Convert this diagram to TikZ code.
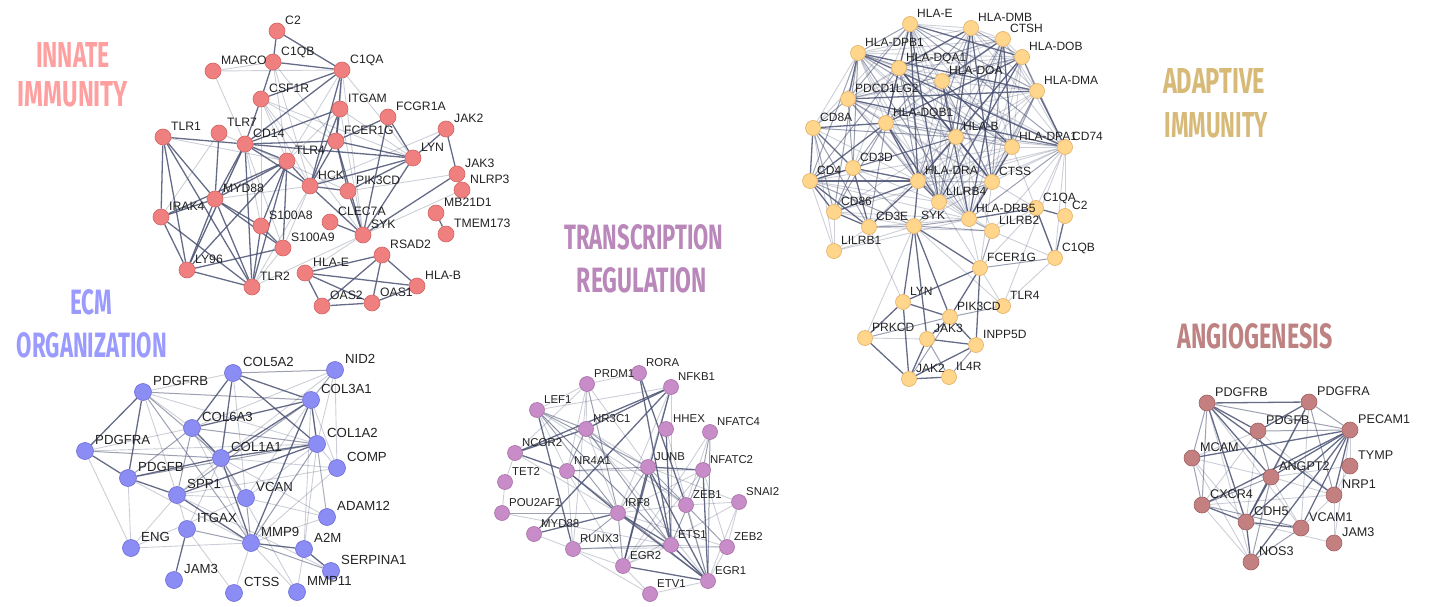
\documentclass[tikz,border=0pt]{standalone}
\usepackage{fontspec}
\setmainfont{Liberation Sans}
\newfontfamily\titlefont{Fira Sans}
\usetikzlibrary{backgrounds}
\pgfdeclarelayer{foreground}
\pgfsetlayers{background,main,foreground}
\definecolor{edgec}{HTML}{4B5273}
\definecolor{labc}{HTML}{222222}
\definecolor{ifill}{HTML}{F08080}\definecolor{idraw}{HTML}{D46464}
\definecolor{efill}{HTML}{8C8CF5}\definecolor{edraw}{HTML}{6C6CD6}
\definecolor{tfill}{HTML}{C88CC8}\definecolor{tdraw}{HTML}{A66EA6}
\definecolor{afill}{HTML}{FFD68C}\definecolor{adraw}{HTML}{E2AE60}
\definecolor{gfill}{HTML}{C48080}\definecolor{gdraw}{HTML}{A06060}
\definecolor{ititle}{HTML}{FFA0A0}
\definecolor{etitle}{HTML}{9B9BFF}
\definecolor{ttitle}{HTML}{B987B9}
\definecolor{atitle}{HTML}{D7B978}
\definecolor{gtitle}{HTML}{BE8282}
\newcommand\netnodes[3]{\foreach \n/\x/\y in {#3} {\node[#2] (#1\n) at (\x,\y) {}; \begin{pgfonlayer}{foreground}\node[lab#1] (#1\n-l) at (#1\n.center) {\n};\end{pgfonlayer}}}
\newcommand\netedges[3]{\foreach \a/\b in {#3} {\draw[#2] (#1\a) -- (#1\b);}}
\newcommand\ttl[6]{\node[title, text=#6] (#1) at (#2,#3) {\resizebox{#4pt}{25pt}{\titlefont\bfseries #5}};}
\begin{document}
\begin{tikzpicture}[x=1pt,y=-1pt,
  gnode/.style={circle, inner sep=0pt, line width=0.6pt},
  inode/.style={gnode, minimum size=16pt, fill=ifill, draw=idraw},
  enode/.style={gnode, minimum size=17pt, fill=efill, draw=edraw},
  tnode/.style={gnode, minimum size=15pt, fill=tfill, draw=tdraw},
  anode/.style={gnode, minimum size=15pt, fill=afill, draw=adraw},
  gnodeb/.style={gnode, minimum size=16pt, fill=gfill, draw=gdraw},
  labbase/.style={anchor=base west, inner sep=0pt, text=labc},
  labi/.style={labbase, font=\fontsize{12.2}{14}\selectfont, xshift=8pt, yshift=6.5pt},
  labe/.style={labbase, font=\fontsize{13.2}{15}\selectfont, xshift=10pt, yshift=7pt},
  labt/.style={labbase, font=\fontsize{11.4}{13}\selectfont, xshift=7pt, yshift=6.5pt},
  laba/.style={labbase, font=\fontsize{12}{14}\selectfont, xshift=7pt, yshift=6.5pt},
  labg/.style={labbase, font=\fontsize{12.6}{14}\selectfont, xshift=8pt, yshift=6.5pt},
  es/.style={draw=edgec, line width=1.3pt, opacity=0.85},
  em/.style={draw=edgec, line width=1pt, opacity=0.55},
  ew/.style={draw=edgec, line width=0.9pt, opacity=0.28},
  title/.style={anchor=south, inner sep=0pt}]
\useasboundingbox (0,0) rectangle (1430,607);

% ---------------- titles
\ttl{tInnate1}{73}{68}{74}{INNATE}{ititle}
\ttl{tInnate2}{73}{107}{110}{IMMUNITY}{ititle}
\ttl{tEcm1}{91}{315}{42}{ECM}{etitle}
\ttl{tEcm2}{92}{358}{150}{ORGANIZATION}{etitle}
\ttl{tTr1}{644}{250}{159}{TRANSCRIPTION}{ttitle}
\ttl{tTr2}{642}{293}{130}{REGULATION}{ttitle}
\ttl{tAd1}{1214}{94}{102}{ADAPTIVE}{atitle}
\ttl{tAd2}{1216}{138}{103}{IMMUNITY}{atitle}
\ttl{tAng}{1255}{349}{155}{ANGIOGENESIS}{gtitle}

% ---------------- innate immunity
\netnodes{i}{inode}{C2/277/31, C1QB/273/62, MARCO/213/71, C1QA/342/70, CSF1R/261/99, ITGAM/340/109, FCGR1A/388/117, JAK2/446/129, TLR1/163/137, TLR7/219/133, CD14/245/144, FCER1G/336/141, TLR4/287/161, LYN/413/158, JAK3/457/174, NLRP3/462/190, HCK/310/186, PIK3CD/348/191, MYD88/215/199, IRAK4/161/217, MB21D1/436/213, CLEC7A/330/222, S100A8/261/226, SYK/363/235, TMEM173/446/234, S100A9/283/248, RSAD2/382/255, LY96/187/270, HLA-E/305/273, HLA-B/417/286, TLR2/252/287, OAS2/322/306, OAS1/372/303}

% ---------------- ECM
\netnodes{e}{enode}{COL5A2/233/373, NID2/335/370, PDGFRB/143/392, COL3A1/311/400, COL6A3/192/428, COL1A2/317/444, PDGFRA/85/451, COL1A1/221/458, COMP/337/468, PDGFB/128/478, SPP1/177/495, VCAN/246/498, ADAM12/327/517, ITGAX/187/529, ENG/131/548, MMP9/251/543, A2M/304/549, SERPINA1/331/571, JAM3/174/580, CTSS/234/593, MMP11/297/592}

% ---------------- transcription
\netnodes{t}{tnode}{RORA/639/373, PRDM1/587/384, NFKB1/671/387, LEF1/537/410, NR3C1/586/429, HHEX/666/429, NFATC4/710/432, NCOR2/515/453, NR4A1/567/471, JUNB/648/467, NFATC2/703/470, TET2/505/482, POU2AF1/502/513, IRF8/618/513, ZEB1/686/505, SNAI2/739/502, MYD88/534/534, RUNX3/573/549, ETS1/671/545, ZEB2/727/547, EGR2/623/566, EGR1/708/581, ETV1/650/594}

% ---------------- adaptive
\netnodes{a}{anode}{HLA-E/910/24, HLA-DMB/971/28, CTSH/1003/39, HLA-DPB1/858/53, HLA-DOB/1022/57, HLA-DQA1/899/68, HLA-DOA/942/81, HLA-DMA/1037/91, PDCD1LG2/848/99, CD8A/813/128, HLA-DQB1/886/123, HLA-B/956/137, HLA-DPA1/1012/147, CD74/1065/147, CD3D/853/168, CD4/810/181, HLA-DRA/918/181, CTSS/992/182, LILRB4/939/202, CD86/834/212, HLA-DRB5/969/219, C1QA/1036/208, C2/1065/216, CD3E/869/227, SYK/914/226, LILRB2/992/231, LILRB1/834/251, C1QB/1055/258, FCER1G/980/268, LYN/903/302, TLR4/1003/306, PIK3CD/950/317, PRKCD/865/338, JAK3/927/339, INPP5D/976/345, JAK2/909/379, IL4R/949/377}

% ---------------- angiogenesis
\netnodes{g}{gnodeb}{PDGFRB/1207/403, PDGFRA/1309/402, PDGFB/1258/431, PECAM1/1350/430, MCAM/1192/458, TYMP/1350/466, ANGPT2/1271/477, NRP1/1334/495, CXCR4/1202/505, CDH5/1246/522, VCAM1/1301/528, JAM3/1334/543, NOS3/1251/562}

\begin{pgfonlayer}{background}
% innate edges
\netedges{i}{es}{C2/C1QB, C2/C1QA, C1QB/C1QA, C1QB/CSF1R, C1QA/CSF1R, C1QA/CD14, CSF1R/CD14, C1QA/FCER1G, C1QA/HCK, ITGAM/FCER1G, ITGAM/HCK, ITGAM/CD14, FCGR1A/FCER1G, FCGR1A/LYN, FCGR1A/SYK, JAK2/JAK3, JAK2/LYN, LYN/HCK, LYN/SYK, LYN/FCER1G, LYN/PIK3CD, LYN/CD14, FCER1G/SYK, FCER1G/HCK, FCER1G/PIK3CD, FCER1G/CD14, HCK/SYK, HCK/PIK3CD, PIK3CD/SYK, CLEC7A/SYK, JAK3/SYK, TLR1/CD14, TLR1/IRAK4, TLR1/MYD88, TLR1/LY96, TLR1/TLR2, TLR7/MYD88, CD14/TLR4, CD14/MYD88, CD14/LY96, CD14/TLR2, CD14/HCK, TLR4/MYD88, TLR4/LY96, TLR4/TLR2, TLR4/IRAK4, TLR4/S100A8, TLR4/S100A9, TLR4/HCK, MYD88/IRAK4, MYD88/LY96, MYD88/TLR2, MYD88/S100A8, MYD88/S100A9, IRAK4/LY96, IRAK4/TLR2, LY96/TLR2, LY96/S100A9, S100A8/S100A9, S100A8/TLR2, MB21D1/TMEM173, RSAD2/OAS2, RSAD2/OAS1, RSAD2/HLA-E, RSAD2/HLA-B, HLA-E/OAS2, HLA-E/OAS1, HLA-E/HLA-B, OAS2/OAS1, OAS1/HLA-B}
\netedges{i}{ew}{MARCO/C1QB, MARCO/C1QA, MARCO/CD14, C1QB/TLR4, C1QB/HCK, C1QB/FCER1G, C1QA/ITGAM, C1QA/TLR4, C1QA/LYN, C1QA/SYK, CSF1R/HCK, CSF1R/FCER1G, CSF1R/LYN, CSF1R/TLR4, CSF1R/S100A8, CSF1R/SYK, ITGAM/SYK, ITGAM/LYN, ITGAM/TLR4, JAK2/HCK, JAK3/PIK3CD, NLRP3/SYK, TLR7/CD14, TLR7/IRAK4, TLR1/TLR4, CD14/S100A8, CD14/S100A9, TLR2/HCK, TLR2/SYK, SYK/HLA-E, S100A9/HCK, MYD88/HCK, CD14/PIK3CD, TLR2/S100A9, CD14/LY96}

% ECM edges
\netedges{e}{es}{COL5A2/COL3A1, COL5A2/COL1A2, COL5A2/COL1A1, COL5A2/COL6A3, PDGFRB/PDGFRA, PDGFRB/PDGFB, COL3A1/COL1A2, COL3A1/COL1A1, COL3A1/COL6A3, COL6A3/COL1A1, COL1A2/COL1A1, PDGFRA/PDGFB, COL1A1/PDGFB, PDGFB/SPP1, SPP1/MMP9, COL1A1/MMP9, MMP9/A2M, A2M/SERPINA1, ITGAX/JAM3, COL1A2/SPP1, COL3A1/MMP9}
\netedges{e}{em}{COL5A2/NID2, NID2/COL3A1, PDGFRB/COL3A1, PDGFRB/COL1A1, COL6A3/PDGFB, COL6A3/SPP1, COL1A2/PDGFB, PDGFRA/COL1A1, COL1A1/VCAN, COL1A2/MMP9, VCAN/MMP9, MMP9/SERPINA1, MMP9/ITGAX, COL6A3/COL1A2, COL3A1/SPP1, PDGFRB/MMP9}
\netedges{e}{ew}{COL5A2/PDGFRB, NID2/COL1A2, NID2/COL1A1, NID2/COL6A3, PDGFRB/COL1A2, PDGFRB/SPP1, PDGFRB/COL6A3, COL3A1/VCAN, COL3A1/COMP, COL6A3/MMP9, COL6A3/PDGFRA, COL1A2/PDGFRA, COL1A2/COMP, COL1A2/VCAN, COL1A2/ADAM12, COL1A1/SPP1, COL1A1/COMP, COL1A1/ADAM12, COL1A1/ITGAX, PDGFRA/ENG, PDGFB/ENG, PDGFB/MMP9, SPP1/ITGAX, SPP1/ENG, SPP1/VCAN, SPP1/COMP, VCAN/ADAM12, ITGAX/CTSS, ENG/MMP9, MMP9/CTSS, MMP9/ADAM12, MMP9/MMP11, A2M/MMP11, MMP9/COMP, COL1A2/A2M, COL3A1/A2M, COL1A1/MMP11, COL5A2/VCAN, NID2/COMP, COL3A1/ADAM12, VCAN/ENG, COL6A3/VCAN, SPP1/SERPINA1}

% transcription edges
\netedges{t}{es}{NFKB1/NR3C1, NFKB1/NCOR2, NFKB1/MYD88, RORA/ZEB1, RORA/ETS1, LEF1/RUNX3, NR3C1/NCOR2, IRF8/EGR1, IRF8/ETS1, IRF8/MYD88, JUNB/NFATC2, JUNB/EGR1, JUNB/EGR2, NFATC2/EGR1, EGR2/EGR1, ETS1/EGR1, NR4A1/IRF8, NCOR2/NR4A1, HHEX/ETS1, JUNB/ETS1, NFKB1/EGR2}
\netedges{t}{em}{LEF1/NR3C1, LEF1/JUNB, LEF1/IRF8, NR3C1/NR4A1, NR3C1/ETS1, NR3C1/ZEB1, NR4A1/EGR1, NR4A1/JUNB, JUNB/ZEB1, JUNB/IRF8, NFATC4/NFATC2, NFATC4/EGR1, NFATC2/ETS1, IRF8/EGR2, IRF8/RUNX3, ZEB1/ZEB2, ZEB1/EGR1, POU2AF1/IRF8, ETS1/RUNX3, PRDM1/IRF8, LEF1/EGR1}
\netedges{t}{ew}{NFKB1/LEF1, NFKB1/IRF8, NFKB1/ETS1, NFKB1/JUNB, PRDM1/LEF1, PRDM1/NR3C1, PRDM1/NCOR2, PRDM1/JUNB, PRDM1/RUNX3, PRDM1/NR4A1, LEF1/ETS1, LEF1/ZEB1, LEF1/NR4A1, NR3C1/JUNB, NR3C1/EGR1, NR3C1/IRF8, NCOR2/IRF8, NCOR2/TET2, NR4A1/EGR2, NR4A1/RUNX3, NR4A1/NFATC2, NFATC4/EGR2, NFATC4/ZEB1, NFATC2/EGR2, NFATC2/IRF8, NFATC2/ZEB2, TET2/POU2AF1, POU2AF1/ETS1, IRF8/ZEB2, IRF8/ZEB1, SNAI2/ZEB2, SNAI2/EGR1, SNAI2/ZEB1, SNAI2/EGR2, ETS1/EGR2, ZEB2/EGR1, EGR2/ETV1, ETV1/EGR1, RUNX3/ETV1, RUNX3/EGR2, HHEX/EGR1, RORA/PRDM1, MYD88/RUNX3, ETS1/ZEB2, RUNX3/ZEB2, JUNB/SNAI2}

% adaptive edges (HLA core)
\def\acore{HLA-E,HLA-DMB,CTSH,HLA-DPB1,HLA-DOB,HLA-DQA1,HLA-DOA,HLA-DMA,HLA-DQB1,HLA-B,HLA-DPA1,CD74,HLA-DRA,CTSS,HLA-DRB5,PDCD1LG2,LILRB4}
\foreach \a [count=\i] in \acore {
  \foreach \b [count=\j] in \acore {
    \ifnum\j>\i
      \pgfmathtruncatemacro\m{mod(\i*5+\j*3,4)}
      \ifnum\m=0 \draw[es] (a\a) -- (a\b);
      \else\ifnum\m=1 \draw[em] (a\a) -- (a\b);
      \else \draw[ew] (a\a) -- (a\b);
      \fi\fi
    \fi
  }
}
\netedges{a}{es}{CD8A/CD4, CD8A/CD3D, CD4/CD3D, CD4/CD3E, CD3D/CD3E, CD4/HLA-DRA, CD4/HLA-DQB1, CD3D/HLA-DRA, CD86/HLA-DRA, CD3E/HLA-DRA, SYK/HLA-DRA, SYK/LYN, SYK/FCER1G, SYK/PIK3CD, SYK/JAK3, FCER1G/LYN, FCER1G/PIK3CD, FCER1G/INPP5D, LYN/PIK3CD, LYN/PRKCD, LYN/JAK2, PIK3CD/JAK3, PIK3CD/INPP5D, JAK3/JAK2, JAK3/INPP5D, JAK2/IL4R, JAK2/INPP5D, PRKCD/JAK2, C1QA/C2, C1QA/C1QB, C2/C1QB, C1QA/HLA-DRB5, CD86/CD3E, CD8A/HLA-DQB1, CD4/CD86}
\netedges{a}{em}{CD8A/CD3E, CD8A/CD86, CD8A/PDCD1LG2, CD8A/HLA-B, CD4/HLA-DPB1, CD4/HLA-B, CD4/SYK, CD3D/HLA-DQB1, CD3D/HLA-B, CD3D/SYK, CD3D/CD86, CD3E/SYK, CD3E/HLA-DQB1, CD86/HLA-DQB1, CD86/HLA-DPB1, SYK/LILRB2, SYK/HLA-DRB5, SYK/LILRB4, LILRB2/HLA-DRB5, LILRB2/FCER1G, C1QB/FCER1G, PIK3CD/PRKCD, PIK3CD/TLR4, JAK3/IL4R, IL4R/INPP5D, PIK3CD/JAK2, CD4/HLA-DQA1, CD3D/PDCD1LG2, CD3D/HLA-DPB1}
\netedges{a}{ew}{CD8A/HLA-DRA, CD8A/HLA-DPB1, CD8A/HLA-E, CD8A/LILRB1, CD4/HLA-DRB5, CD4/LILRB1, CD4/CTSS, CD4/HLA-DPA1, CD4/LILRB4, CD3D/HLA-E, CD3D/LILRB4, CD3E/HLA-B, CD3E/LILRB1, CD3E/HLA-DRB5, CD3E/LILRB2, CD3E/LYN, CD86/HLA-B, CD86/CD74, CD86/LILRB1, CD86/SYK, CD86/HLA-DRB5, LILRB1/SYK, LILRB1/HLA-DRB5, SYK/CTSS, SYK/TLR4, SYK/PRKCD, LILRB2/HLA-B, LILRB2/HLA-DRA, LILRB2/CD74, LILRB2/C1QB, LILRB2/C1QA, C1QA/CTSS, C1QA/FCER1G, C1QA/CD74, C1QB/CD74, C1QB/TLR4, C1QB/HLA-DPA1, C2/CD74, FCER1G/CTSS, FCER1G/HLA-DRB5, FCER1G/TLR4, PRKCD/JAK3, FCER1G/LILRB4, CD74/TLR4}

% angiogenesis edges
\netedges{g}{es}{PDGFRB/PDGFRA, PDGFRB/PDGFB, PDGFRB/ANGPT2, PDGFRB/CDH5, PDGFRB/NRP1, PDGFRA/PDGFB, PDGFRA/CDH5, PECAM1/MCAM, PECAM1/ANGPT2, PECAM1/NRP1, PECAM1/CXCR4, PECAM1/CDH5, PECAM1/VCAM1, PECAM1/NOS3, ANGPT2/CDH5, CXCR4/CDH5, CDH5/VCAM1, CDH5/NOS3}
\netedges{g}{em}{PDGFRB/PECAM1, PDGFRB/MCAM, PDGFRB/CXCR4, PDGFRA/PECAM1, PDGFRA/NRP1, PDGFB/PECAM1, PDGFB/ANGPT2, MCAM/CXCR4, ANGPT2/CXCR4, ANGPT2/NOS3, CXCR4/VCAM1, VCAM1/NOS3}
\netedges{g}{ew}{PDGFRB/VCAM1, PDGFRB/NOS3, PDGFRA/VCAM1, PDGFRA/ANGPT2, PDGFB/MCAM, PDGFB/NRP1, PDGFB/CXCR4, PDGFB/CDH5, PECAM1/TYMP, PECAM1/JAM3, MCAM/CDH5, MCAM/ANGPT2, ANGPT2/NRP1, ANGPT2/VCAM1, CXCR4/NOS3, CXCR4/NRP1, CDH5/JAM3, VCAM1/NRP1, NRP1/JAM3, NRP1/TYMP, MCAM/NOS3, TYMP/ANGPT2}
\end{pgfonlayer}
\end{tikzpicture}
\end{document}
